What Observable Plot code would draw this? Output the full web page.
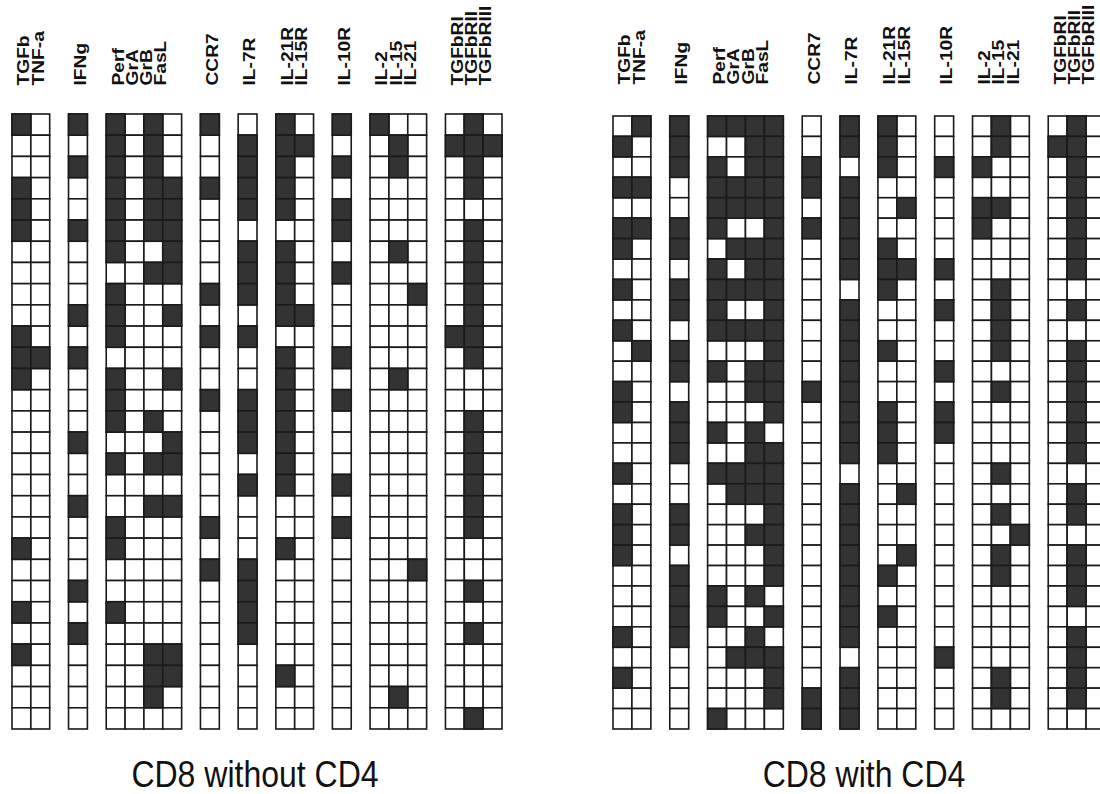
<!DOCTYPE html>
<html><head><meta charset="utf-8">
<script src="https://cdn.jsdelivr.net/npm/d3@7"></script>
<script src="https://cdn.jsdelivr.net/npm/@observablehq/plot@0.6"></script>
<style>
html,body{margin:0;padding:0;background:#fff;overflow:hidden}
#page{position:relative;width:1100px;height:794px;overflow:hidden;font-family:"Liberation Sans",Arial,sans-serif;background:#fff}
.panel{position:absolute;top:0}
.caption{position:absolute;top:757px;font-size:32px;transform:translateX(-50%) scaleY(1.14);transform-origin:50% 50%;white-space:nowrap;color:#111;font-family:"Liberation Sans",Arial,sans-serif}
</style></head><body>
<div id="page">
  <div id="left" class="panel" style="left:0;width:540px"></div>
  <div id="right" class="panel" style="left:550px;width:560px"></div>
  <div id="capL" class="caption" style="left:255px"></div>
  <div id="capR" class="caption" style="left:864px"></div>
</div>
<script>
// column names (in display order) and how they are grouped
const columns = ["TGFb","TNF-a","IFNg","Perf","GrA","GrB","FasL","CCR7","IL-7R","IL-21R","IL-15R","IL-10R","IL-2","IL-15","IL-21","TGFbRI","TGFbRII","TGFbRIII"];
const groupSizes = [2,1,4,1,1,2,1,3,3];

// one string per clone (row); groups separated by spaces; 1 = filled (black) cell
const withoutCD4 = [
  "10 1 1010 1 0 10 1 100 010",
  "00 0 1010 0 1 11 0 010 111",
  "00 1 1010 0 1 10 1 010 010",
  "10 0 1011 1 1 10 0 000 010",
  "10 0 1011 0 1 10 1 000 000",
  "10 1 1011 0 0 00 1 000 010",
  "00 0 1001 0 1 10 0 010 010",
  "00 0 0011 0 1 10 1 000 010",
  "00 0 1000 1 1 10 0 001 010",
  "00 1 1001 0 0 11 0 000 010",
  "10 0 1000 1 1 00 0 000 110",
  "11 1 0000 0 0 10 1 000 010",
  "10 0 1001 0 0 10 0 010 000",
  "00 0 1000 1 1 10 1 000 000",
  "00 0 1010 0 1 10 0 000 010",
  "00 1 0001 0 1 10 0 000 010",
  "00 0 1011 0 0 10 0 000 010",
  "00 0 0000 0 1 10 1 000 010",
  "00 1 0011 0 0 00 0 000 010",
  "00 0 1000 1 0 00 1 000 010",
  "10 0 1000 0 0 10 0 000 000",
  "00 0 0000 1 1 00 0 001 000",
  "00 1 0000 0 1 00 0 000 010",
  "10 0 1000 0 1 00 0 000 000",
  "00 1 0000 0 1 00 0 000 010",
  "10 0 0011 0 0 00 0 000 000",
  "00 0 0011 0 0 10 0 000 000",
  "00 0 0010 0 0 00 0 010 000",
  "00 0 0000 0 0 00 0 000 010"
];
const withCD4 = [
  "01 1 1111 0 1 10 0 010 010",
  "10 1 0011 0 1 10 0 010 110",
  "00 1 1011 1 0 10 1 100 010",
  "11 0 1111 1 1 00 0 000 010",
  "00 0 1111 0 1 01 0 110 010",
  "11 1 1001 1 1 00 0 100 010",
  "10 1 0111 0 1 10 0 000 010",
  "00 0 1011 0 1 11 1 000 010",
  "10 1 1111 0 0 10 0 010 000",
  "00 1 1001 0 1 00 1 010 010",
  "10 0 1111 0 1 00 0 010 000",
  "01 1 0001 0 1 10 0 010 010",
  "00 1 1011 0 1 00 1 000 010",
  "10 0 0011 1 1 00 0 010 010",
  "10 1 0001 0 1 10 1 000 010",
  "00 1 1010 0 1 10 1 000 010",
  "00 1 0011 0 1 10 0 000 010",
  "10 0 1111 0 0 00 0 010 000",
  "00 0 0111 0 1 01 0 000 010",
  "10 1 0001 0 1 00 0 010 010",
  "10 1 0011 0 1 00 0 001 000",
  "10 0 0001 0 1 01 0 010 010",
  "00 1 0001 0 1 10 0 010 010",
  "00 1 1010 0 1 00 0 000 010",
  "00 1 1001 0 1 10 0 000 000",
  "10 1 0010 0 1 00 0 000 010",
  "00 0 0111 0 0 00 1 000 010",
  "10 0 0001 0 1 00 0 010 010",
  "00 0 0001 1 1 00 0 010 010",
  "00 0 1000 1 1 00 0 000 000"
];
const captions = ["CD8 without CD4", "CD8 with CD4"];

// x domain: columns with an empty slot between groups
const xDomain = [];
const labelInfo = [];
{
  let k = 0;
  groupSizes.forEach((n, g) => {
    for (let i = 0; i < n; i++) { xDomain.push(columns[k]); labelInfo.push({name: columns[k], idx: i}); k++; }
    if (g < groupSizes.length - 1) xDomain.push("gap" + g);
  });
}

function panel(rows, o) {
  const cells = rows.flatMap((s, r) => {
    const bits = s.replace(/\s/g, "");
    return columns.map((c, j) => ({row: r, col: c, on: bits[j] === "1"}));
  });
  const svg = Plot.plot({
    width: o.width, height: 740,
    marginTop: o.top, marginLeft: o.left, marginRight: o.right, marginBottom: 11,
    x: {domain: xDomain, padding: 0, round: false, axis: null},
    y: {domain: d3.range(rows.length), padding: 0, round: false, axis: null},
    marks: [
      Plot.cell(cells, {x: "col", y: "row", fill: "#ffffff", stroke: "#1a1a1a", strokeWidth: 1.6, inset: 0}),
      Plot.cell(cells.filter(d => d.on), {x: "col", y: "row", fill: "#333333", stroke: "#1a1a1a", strokeWidth: 1.6, inset: 0}),
      ...[0, 1, 2, 3].map(i => Plot.text(labelInfo.filter(d => d.idx === i), {
        x: "name", text: "name", frameAnchor: "top", dy: o.labelDy, dx: -4 - 4.6 * i,
        rotate: -90, textAnchor: "start", fontWeight: "bold", fontSize: 16,
        fontFamily: "Liberation Sans, Arial, sans-serif", fill: "#111", className: "hdr"
      }))
    ]
  });
  // stretch header labels along their length like the reference lettering
  d3.select(svg).selectAll(".hdr text").each(function() {
    const t = this.getAttribute("transform") || "";
    this.setAttribute("transform", t + " scale(1.2,1)");
  });
  return svg;
}

document.getElementById("left").appendChild(panel(withoutCD4, {width: 540, left: 12, right: 38, top: 114, labelDy: -29}));
document.getElementById("right").appendChild(panel(withCD4, {width: 560, left: 63, right: 5, top: 116, labelDy: -32}));
document.getElementById("capL").textContent = captions[0];
document.getElementById("capR").textContent = captions[1];
</script>
</body></html>
